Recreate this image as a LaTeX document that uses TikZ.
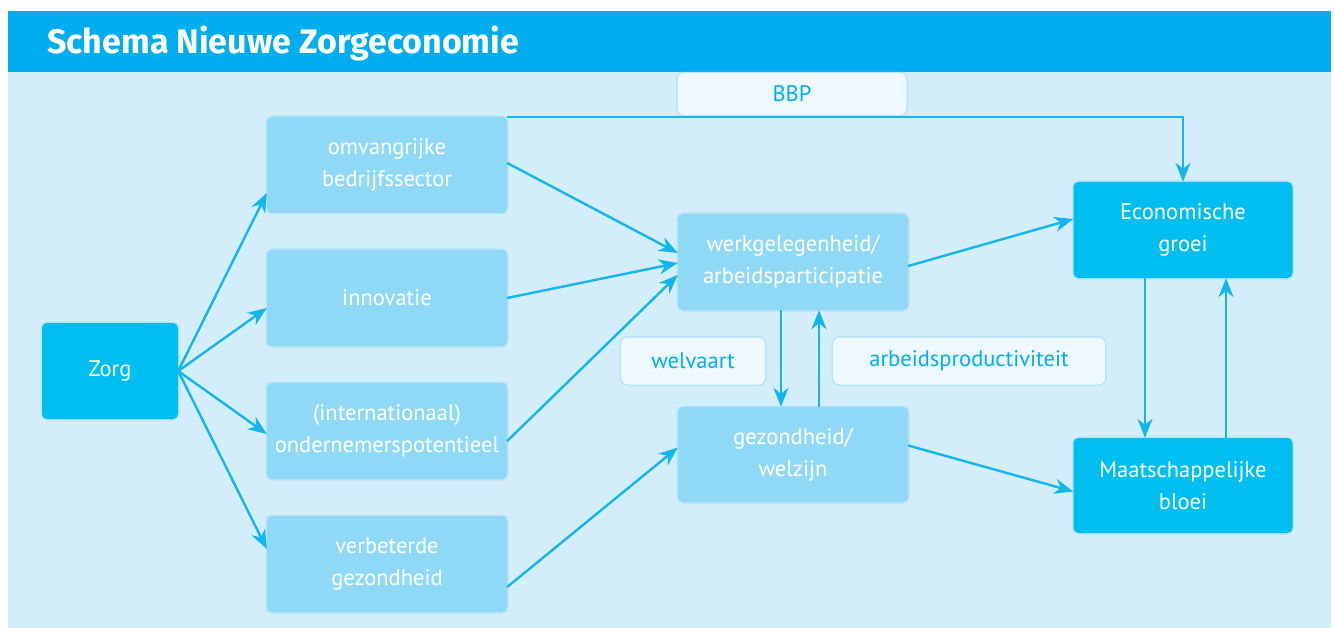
\documentclass[tikz,border=0pt]{standalone}
\usepackage{fontspec}
\setmainfont{PT Sans}
\newfontfamily\titlefont{Fira Sans}
\usetikzlibrary{arrows.meta}
\definecolor{headc}{HTML}{00AEEF}
\definecolor{bodyc}{HTML}{D3EEFA}
\definecolor{darkbox}{HTML}{00BFF0}
\definecolor{lightbox}{HTML}{8FD9F7}
\definecolor{labelbox}{HTML}{EEF9FE}
\definecolor{linec}{HTML}{12B5EC}
\definecolor{glowc}{HTML}{5CC8F2}
\tikzset{
  glow/.style={preaction={draw=glowc, line width=3pt, opacity=0.25}},
  basebox/.style={rounded corners=5pt, inner sep=0pt, align=center, text=white,
    font=\fontsize{22.5}{32}\selectfont, glow},
  darkstep/.style={basebox, fill=darkbox},
  lightstep/.style={basebox, fill=lightbox},
  tagbox/.style={rounded corners=7pt, inner sep=0pt, fill=labelbox, text=headc,
    font=\fontsize{22.5}{26}\selectfont, glow},
  conn/.style={draw=linec, line width=2.4pt, -{Stealth[length=19pt, width=15pt, inset=6pt]}},
}
\begin{document}
\begin{tikzpicture}[x=1pt,y=-1pt]
\useasboundingbox (0,0) rectangle (1335,628);
\fill[white] (0,0) rectangle (1335,628);
\fill[headc] (8,11) rectangle (1331,72);
\fill[bodyc] (8,72) rectangle (1331,628);
\node[anchor=base west, text=white, inner sep=0pt, font=\titlefont\fontsize{34}{38}\selectfont\bfseries] (title) at (47,54) {Schema Nieuwe Zorgeconomie};

% nodes
\node[darkstep, minimum width=136pt, minimum height=96pt] (zorg) at (110,371) {Zorg};
\node[lightstep, minimum width=240pt, minimum height=96pt] (omv) at (387,165) {omvangrijke\\bedrijfssector};
\node[lightstep, minimum width=240pt, minimum height=96pt] (innov) at (387,298) {innovatie};
\node[lightstep, minimum width=240pt, minimum height=96pt] (intl) at (387,431) {(internationaal)\\ondernemerspotentieel};
\node[lightstep, minimum width=240pt, minimum height=96pt] (verb) at (387,564) {verbeterde\\gezondheid};
\node[lightstep, minimum width=230pt, minimum height=96pt] (werk) at (793,262) {werkgelegenheid/\\arbeidsparticipatie};
\node[lightstep, minimum width=230pt, minimum height=95pt] (gez) at (793,454.5) {gezondheid/\\welzijn};
\node[darkstep, minimum width=219pt, minimum height=96pt] (econ) at (1183,230) {Economische\\groei};
\node[darkstep, minimum width=219pt, minimum height=95pt] (maat) at (1183,485.5) {Maatschappelijke\\bloei};

% connectors
\draw[conn] (omv.north east) -| (econ.north);
\node[tagbox, minimum width=229pt, minimum height=42pt] (bbp) at (792,94) {BBP};

\draw[conn] (zorg.east) -- ([yshift=-28pt]omv.west);
\draw[conn] (zorg.east) -- ([yshift=-10pt]innov.west);
\draw[conn] (zorg.east) -- ([yshift=-3pt]intl.west);
\draw[conn] (zorg.east) -- ([yshift=15pt]verb.west);

\draw[conn] ([yshift=2pt]omv.east) -- ([yshift=9pt]werk.west);
\draw[conn] (innov.east) -- ([yshift=-1pt]werk.west);
\draw[conn] ([yshift=-10pt]intl.east) -- ([yshift=-13pt]werk.west);
\draw[conn] ([yshift=-23pt]verb.east) -- ([yshift=7pt]gez.west);

\draw[conn] ([yshift=-4pt]werk.east) -- ([yshift=11pt]econ.west);
\draw[conn] ([yshift=9pt]gez.east) -- ([yshift=-6pt]maat.west);

\draw[conn] ([xshift=-12pt]werk.south) -- ([xshift=-12pt]gez.north);
\draw[conn] ([xshift=26pt]gez.north) -- ([xshift=26pt]werk.south);
\draw[conn] ([xshift=-38pt]econ.south) -- ([xshift=-38pt]maat.north);
\draw[conn] ([xshift=43pt]maat.north) -- ([xshift=43pt]econ.south);

\node[tagbox, minimum width=144pt, minimum height=47pt] (welv) at (693,361) {welvaart};
\node[tagbox, minimum width=272pt, minimum height=47pt] (arbp) at (969,361) {arbeidsproductiviteit};
\end{tikzpicture}
\end{document}
